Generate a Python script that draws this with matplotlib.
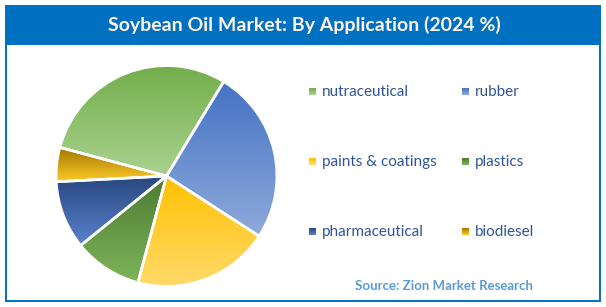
import numpy as np
import matplotlib
matplotlib.use("Agg")
import matplotlib.pyplot as plt
from matplotlib.colors import LinearSegmentedColormap
from matplotlib.patches import Rectangle

plt.rcParams['font.family'] = ['Lato', 'DejaVu Sans']

# data (shares in %)
categories = ['nutraceutical', 'rubber', 'paints & coatings', 'plastics', 'pharmaceutical', 'biodiesel']
shares = [29.5, 25.5, 20.0, 10.0, 10.0, 5.0]
top_colors = ['#72AE4A', '#4472C4', '#FFC000', '#4E7B32', '#27467E', '#A07800']
bottom_colors = ['#AAD290', '#8FAADC', '#FFDA6A', '#7DB55A', '#5B82CC', '#FFC928']
title = 'Soybean Oil Market: By Application (2024 %)'
source = 'Source: Zion Market Research'

W, H = 606, 307
fig = plt.figure(figsize=(W / 100, H / 100), dpi=100)

# background overlay in pixel coords
bg = fig.add_axes([0, 0, 1, 1])
bg.set_xlim(0, W)
bg.set_ylim(H, 0)
bg.axis('off')
blue = '#0070C0'
bg.add_patch(Rectangle((5.5, 44), 594.5, 257, fill=False, edgecolor=blue, linewidth=1.4))
bg.add_patch(Rectangle((5, 5), 595.5, 39, facecolor=blue, edgecolor='none'))
bg.text(304, 25, title, color='#FFF3EC', fontsize=14, fontweight='bold', ha='center', va='center')
bg.text(444, 286, source, color='#5B9BD5', fontsize=9.5, fontweight='bold', ha='center', va='center')

# pie
cx, cy, r = 166.5, 176, 111.5
ax = fig.add_axes([(cx - r) / W, (H - cy - r) / H, 2 * r / W, 2 * r / H])
wedges, _ = ax.pie(shares, startangle=165, counterclock=False, radius=1,
                   colors=top_colors, wedgeprops=dict(edgecolor='white', linewidth=1.9))
grad = np.linspace(0, 1, 256).reshape(-1, 1)
for w, c0, c1 in zip(wedges, top_colors, bottom_colors):
    bb = w.get_path().get_extents()
    cmap = LinearSegmentedColormap.from_list('g', [c0, c1])
    im = ax.imshow(grad, cmap=cmap, extent=[bb.x0, bb.x1, bb.y0, bb.y1],
                   origin='upper', aspect='auto', zorder=1.5)
    im.set_clip_path(w)
    w.set_facecolor('none')
    w.set_zorder(2)
ax.set_xlim(-1.01, 1.01)
ax.set_ylim(-1.01, 1.01)
ax.set_aspect('equal')
ax.axis('off')

# legend, 2 columns x 3 rows
col_x = [309, 462]
row_y = [92, 162, 232]
for i, (name, c0, c1) in enumerate(zip(categories, top_colors, bottom_colors)):
    x = col_x[i % 2]
    y = row_y[i // 2]
    bg.imshow(grad, cmap=LinearSegmentedColormap.from_list('l', [c0, c1]),
              extent=[x, x + 7, y + 3.5, y - 3.5], origin='upper', aspect='auto')
    bg.text(x + 13, y, name, color='#2F5597', fontsize=11, ha='left', va='center')
bg.set_xlim(0, W)
bg.set_ylim(H, 0)

fig.savefig('out.png', dpi=100)
